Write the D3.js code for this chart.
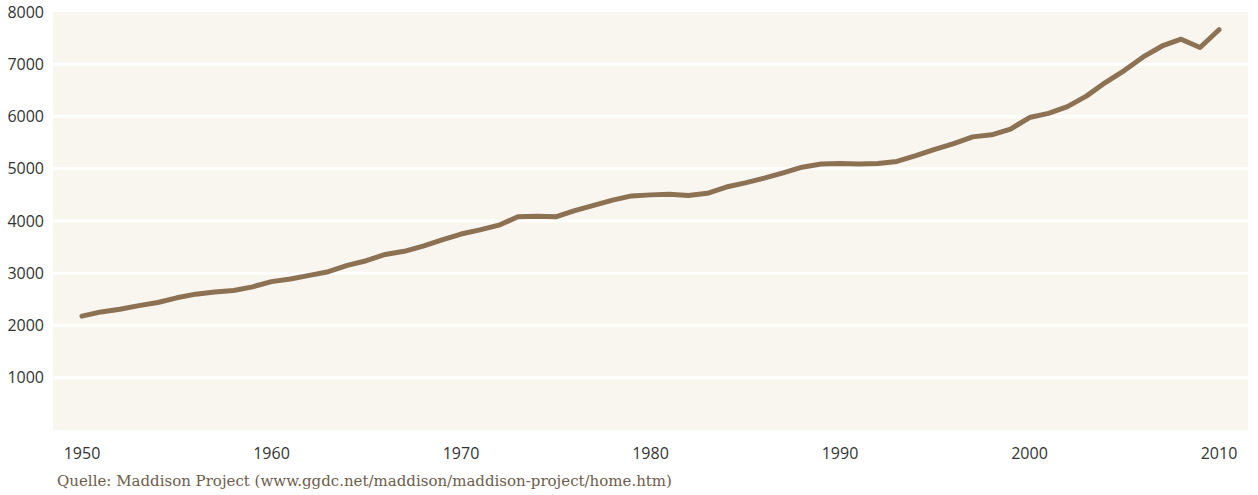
<!DOCTYPE html>
<html>
<head>
<meta charset="utf-8">
<script src="https://cdn.jsdelivr.net/npm/d3@7"></script>
<style>
  body { margin: 0; background: #fff; }
  svg { display: block; }
</style>
</head>
<body>
<svg width="1258" height="495"></svg>
<script>
// world GDP per capita
const years = d3.range(1950, 2011);
const gdpPerCapita = [
  2180, 2260, 2310, 2380, 2440, 2530, 2600, 2640, 2670, 2740,
  2840, 2890, 2960, 3030, 3150, 3240, 3360, 3420, 3520, 3640,
  3750, 3830, 3920, 4080, 4090, 4080, 4200, 4300, 4400, 4480,
  4500, 4510, 4490, 4530, 4650, 4730, 4820, 4920, 5030, 5090,
  5100, 5090, 5100, 5140, 5250, 5370, 5480, 5610, 5650, 5760,
  5980, 6060, 6190, 6390, 6650, 6880, 7140, 7350, 7480, 7320,
  7660
];
const yTicks = [1000, 2000, 3000, 4000, 5000, 6000, 7000, 8000];
const xTicks = [1950, 1960, 1970, 1980, 1990, 2000, 2010];
const source = "Quelle: Maddison Project (www.ggdc.net/maddison/maddison-project/home.htm)";

const svg = d3.select("svg");
const plot = {left: 53, right: 1248, top: 12, bottom: 430};

const x = d3.scaleLinear().domain([1950, 2010]).range([82, 1219]);
const y = d3.scaleLinear().domain([0, 8000]).range([plot.bottom, plot.top]);

// paper-coloured plot area
svg.append("rect")
  .attr("x", plot.left)
  .attr("y", plot.top)
  .attr("width", plot.right - plot.left)
  .attr("height", plot.bottom - plot.top)
  .attr("fill", "#f8f6ef");

// white separator lines between the bands
svg.append("g")
  .selectAll("line")
  .data(yTicks.slice(0, -1))
  .join("line")
    .attr("x1", plot.left)
    .attr("x2", plot.right)
    .attr("y1", d => y(d))
    .attr("y2", d => y(d))
    .attr("stroke", "#fff")
    .attr("stroke-width", 3);

// y labels
svg.append("g")
  .selectAll("text")
  .data(yTicks)
  .join("text")
    .attr("x", 44)
    .attr("y", d => y(d))
    .attr("dy", "0.35em")
    .attr("text-anchor", "end")
    .style("font-family", "'Open Sans', sans-serif")
    .style("font-size", "16px")
    .attr("fill", "#333")
    .text(d => d);

// x labels
svg.append("g")
  .selectAll("text")
  .data(xTicks)
  .join("text")
    .attr("x", d => x(d))
    .attr("y", 453)
    .attr("dy", "0.35em")
    .attr("text-anchor", "middle")
    .style("font-family", "'Open Sans', sans-serif")
    .style("font-size", "16px")
    .attr("fill", "#333")
    .text(d => d);

// the line
const line = d3.line()
  .x((d, i) => x(years[i]))
  .y(d => y(d));

svg.append("path")
  .datum(gdpPerCapita)
  .attr("fill", "none")
  .attr("stroke", "#8c7153")
  .attr("stroke-width", 5)
  .attr("stroke-linejoin", "round")
  .attr("stroke-linecap", "round")
  .attr("d", line);

// source note
svg.append("text")
  .attr("x", 57)
  .attr("y", 486)
  .style("font-family", "'DejaVu Serif', serif")
  .style("font-size", "15px")
  .attr("fill", "#6e5c4c")
  .text(source);
</script>
</body>
</html>
